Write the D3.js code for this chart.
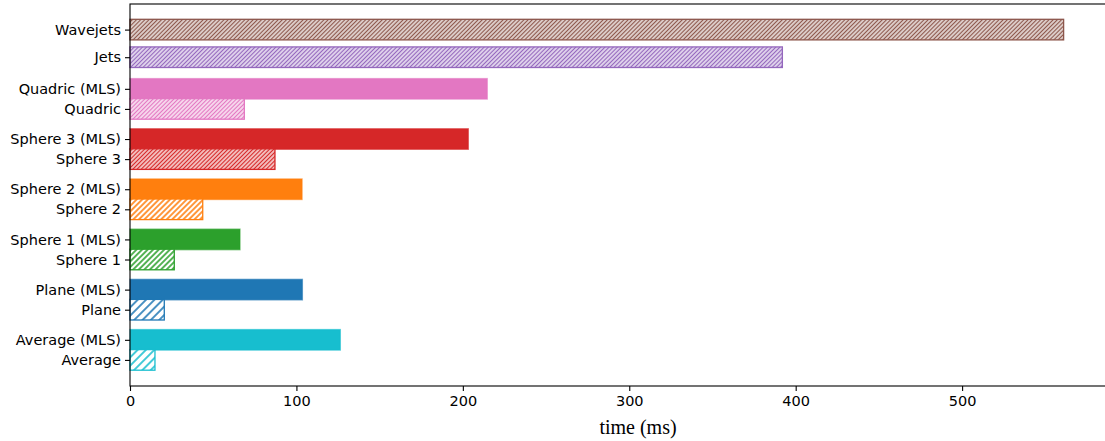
<!DOCTYPE html>
<html>
<head>
<meta charset="utf-8">
<script src="https://cdn.jsdelivr.net/npm/d3@7"></script>
<style>
  body { margin: 0; background: #fff; }
  svg { display: block; }
</style>
</head>
<body>
<div id="container"></div>
<script>
/* DATA */
const labels = ["Wavejets", "Jets", "Quadric (MLS)", "Quadric", "Sphere 3 (MLS)", "Sphere 3",
  "Sphere 2 (MLS)", "Sphere 2", "Sphere 1 (MLS)", "Sphere 1", "Plane (MLS)", "Plane",
  "Average (MLS)", "Average"];
const times = [561, 392, 214.7, 68.7, 203.3, 87.1, 103.4, 43.7, 66.1, 26.6, 103.6, 20.6, 126.4, 15.0];
// y value of each bar (matplotlib-like barh positions)
const yPos = [6.38, 5.83, 5.2, 4.8, 4.2, 3.8, 3.2, 2.8, 2.2, 1.8, 1.2, 0.8, 0.2, -0.2];
const hatches = ["////", "////", "", "////", "", "////", "", "///", "", "///", "", "//", "", "//"];
const colors = ["#8c564b", "#9467bd", "#e377c2", "#e377c2", "#d62728", "#d62728",
  "#ff7f0e", "#ff7f0e", "#2ca02c", "#2ca02c", "#1f77b4", "#1f77b4", "#17becf", "#17becf"];
const xTicks = [0, 100, 200, 300, 400, 500];

/* CONSTANTS */
const width = 1105, height = 441,
  margin = {top: 4, bottom: 55, left: 130};

const data = labels.map((l, i) => ({label: l, t: times[i], y: yPos[i], hatch: hatches[i], color: colors[i]}));

/* SCALES */
const xScale = d3.scaleLinear()
  .domain([0, 610.5])
  .range([margin.left, 1146]);

const yScale = d3.scaleLinear()
  .domain([-0.72, 6.89])
  .range([height - margin.bottom, margin.top]);

const barH = yScale(0) - yScale(0.41);

const svg = d3.select("#container").append("svg")
  .attr("width", width)
  .attr("height", height);

// hatch patterns, one per bar that needs one
const defs = svg.append("defs");
data.forEach((d, i) => {
  if (!d.hatch) return;
  const step = 100 / (6 * d.hatch.length);  // horizontal spacing, matplotlib style
  const w = step / Math.SQRT2;
  const p = defs.append("pattern")
    .attr("id", "hatch" + i)
    .attr("patternUnits", "userSpaceOnUse")
    .attr("width", w)
    .attr("height", 10)
    .attr("patternTransform", "rotate(45)");
  p.append("rect").attr("width", w).attr("height", 10).attr("fill", "#fff");
  p.append("line")
    .attr("x1", w / 2).attr("x2", w / 2)
    .attr("y1", 0).attr("y2", 10)
    .attr("stroke", d.color)
    .attr("stroke-width", 1.6);
});

/* BARS */
svg.selectAll(".bar")
  .data(data)
  .join("rect")
  .attr("class", "bar")
  .attr("x", xScale(0))
  .attr("y", d => yScale(d.y) - barH / 2)
  .attr("width", d => xScale(d.t) - xScale(0))
  .attr("height", barH)
  .attr("fill", d => d.hatch ? `url(#hatch${data.indexOf(d)})` : d.color)
  .attr("stroke", d => d.color)
  .attr("stroke-opacity", d => d.hatch ? 1 : 0.6)
  .attr("stroke-width", 1.3);

/* AXES */
const xAxis = d3.axisBottom(xScale).tickValues(xTicks).tickSize(5).tickPadding(5);
const yAxis = d3.axisLeft(yScale).tickValues(yPos).tickFormat((d, i) => labels[i]).tickSize(5).tickPadding(4);

const gx = svg.append("g")
  .attr("transform", `translate(0,${height - margin.bottom})`)
  .call(xAxis);
const gy = svg.append("g")
  .attr("transform", `translate(${margin.left},0)`)
  .call(yAxis);

[gx, gy].forEach(g => {
  g.select(".domain").remove();
  g.selectAll(".tick line").attr("stroke", "#000").attr("stroke-width", 1.1);
  g.selectAll(".tick text")
    .attr("fill", "#000")
    .style("font-family", "'DejaVu Sans', sans-serif")
    .style("font-size", "14.5px");
});

// frame
svg.append("rect")
  .attr("x", xScale(0))
  .attr("y", margin.top)
  .attr("width", 1146 - xScale(0))
  .attr("height", height - margin.bottom - margin.top)
  .attr("fill", "none")
  .attr("stroke", "#000")
  .attr("stroke-width", 1.1);

svg.append("text")
  .attr("x", (xScale.range()[0] + xScale.range()[1]) / 2)
  .attr("y", 434)
  .attr("text-anchor", "middle")
  .style("font-family", "'Liberation Serif', serif")
  .style("font-size", "20px")
  .text("time (ms)");
</script>
</body>
</html>
